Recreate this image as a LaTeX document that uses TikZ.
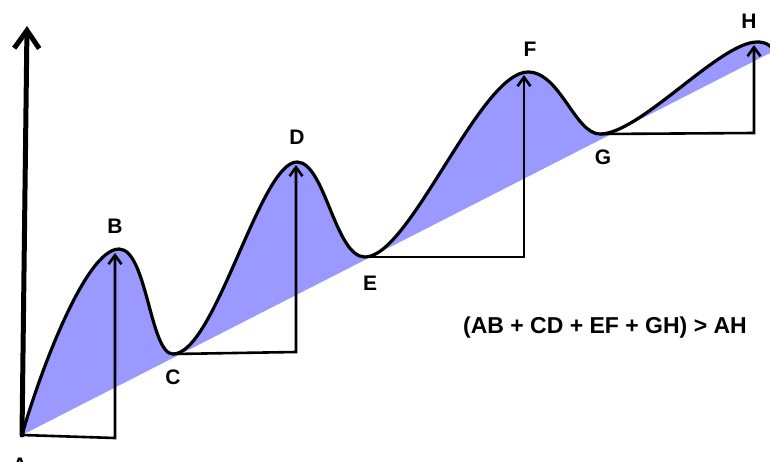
\documentclass[tikz,border=0pt]{standalone}
\usepackage{fontspec}
\setmainfont{Liberation Sans}
\usetikzlibrary{arrows.meta}

\definecolor{areablue}{RGB}{153,153,255}

% the wave through A..H, used for fill and stroke
\newcommand{\wavepath}{(A) .. controls (38,378) and (85,249) .. (B)
  .. controls (147,249) and (150,354) .. (C)
  .. controls (215,354) and (260,162) .. (D)
  .. controls (325,162) and (335,257) .. (E)
  .. controls (410,257) and (480,72) .. (F)
  .. controls (560,72) and (575,134) .. (G)
  .. controls (640,134) and (720,42) .. (H)
  .. controls (765,42) and (768,44) .. (wend)}

\begin{document}
\begin{tikzpicture}[x=1pt,y=-1pt,
  >={Straight Barb[length=9pt,width=13pt]},
  lbl/.style={font=\bfseries\fontsize{21}{21}\selectfont},
  rise/.style={line width=2.6pt,->},
  wave/.style={line width=3.2pt,line cap=round}]
\useasboundingbox (0,0) rectangle (770,461);

\coordinate (A) at (22,435);
\coordinate (B) at (119,249);
\coordinate (C) at (173,354);
\coordinate (D) at (297,162);
\coordinate (E) at (365,257);
\coordinate (F) at (528,72);
\coordinate (G) at (600,134);
\coordinate (H) at (757,42);
\coordinate (wend) at (772,48);
\coordinate (lend) at (772,52);
\coordinate (ytop) at (27,26);

% feet and tips of the rises
\coordinate (footB) at (115,438);
\coordinate (tipB) at (115,253);
\coordinate (footD) at (296,352);
\coordinate (tipD) at (296,165);
\coordinate (footF) at (524,257);
\coordinate (tipF) at (524,75);
\coordinate (footH) at (754,133);
\coordinate (tipH) at (754,45);

\fill[areablue] \wavepath -- (lend) -- (A) -- cycle;

\draw[line width=5pt,line cap=round,-{Straight Barb[length=18pt,width=25pt]}] (A) -- (ytop);

\draw[rise] (A) -- (footB) -- (tipB);
\draw[rise] (C) -- (footD) -- (tipD);
\draw[rise] (E) -- (footF) -- (tipF);
\draw[rise] (G) -- (footH) -- (tipH);

\draw[wave] \wavepath;

\node[lbl] (lA) at (20,465) {A};
\node[lbl] (lB) at (115,226) {B};
\node[lbl] (lC) at (173,377) {C};
\node[lbl] (lD) at (297,137) {D};
\node[lbl] (lE) at (370,283) {E};
\node[lbl] (lF) at (530,49) {F};
\node[lbl] (lG) at (603,157) {G};
\node[lbl] (lH) at (749,21) {H};

\node[font=\bfseries\fontsize{23}{23}\selectfont] (sum) at (605,328) {(AB + CD + EF + GH) > AH};
\end{tikzpicture}
\end{document}
